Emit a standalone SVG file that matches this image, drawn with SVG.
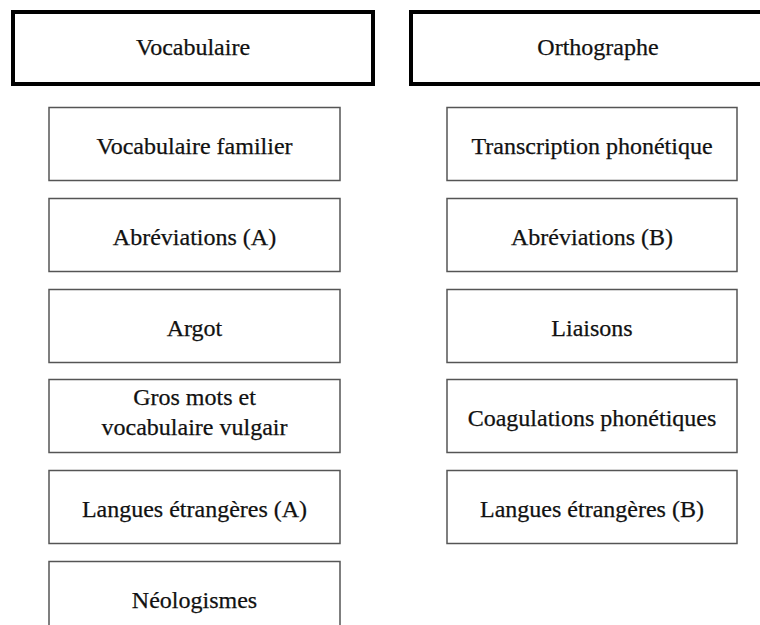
<svg xmlns="http://www.w3.org/2000/svg" width="760" height="625" viewBox="0 0 760 625">
<style>
.hdr{fill:#fff;stroke:#000;stroke-width:4}
.box{fill:#fff;stroke:#555;stroke-width:1.5}
.t{font-family:'Liberation Serif','Times New Roman',serif;font-size:24px;fill:#111;stroke:#111;stroke-width:0.25;text-anchor:middle}
</style>
<rect width="760" height="625" fill="#fff"/>
<g id="vocabulaire"><rect class="hdr" x="13" y="12" width="360" height="72"/><text class="t" x="193" y="55">Vocabulaire</text></g>
<g id="orthographe"><rect class="hdr" x="411" y="12" width="374" height="72"/><text class="t" x="598" y="55">Orthographe</text></g>
<g id="vocab-familier"><rect class="box" x="49" y="107.5" width="291" height="73"/><text class="t" x="194.5" y="154">Vocabulaire familier</text></g>
<g id="abrev-a"><rect class="box" x="49" y="198.5" width="291" height="73"/><text class="t" x="194.5" y="245">Abréviations (A)</text></g>
<g id="argot"><rect class="box" x="49" y="289.5" width="291" height="73"/><text class="t" x="194.5" y="336">Argot</text></g>
<g id="gros-mots"><rect class="box" x="49" y="379.5" width="291" height="73"/><text class="t" x="194.5" y="405">Gros mots et</text><text class="t" x="194.5" y="435">vocabulaire vulgair</text></g>
<g id="langues-a"><rect class="box" x="49" y="470.5" width="291" height="73"/><text class="t" x="194.5" y="517">Langues étrangères (A)</text></g>
<g id="neologismes"><rect class="box" x="49" y="561.5" width="291" height="73"/><text class="t" x="194.5" y="608">Néologismes</text></g>
<g id="transcription"><rect class="box" x="447" y="107.5" width="290" height="73"/><text class="t" x="592" y="154">Transcription phonétique</text></g>
<g id="abrev-b"><rect class="box" x="447" y="198.5" width="290" height="73"/><text class="t" x="592" y="245">Abréviations (B)</text></g>
<g id="liaisons"><rect class="box" x="447" y="289.5" width="290" height="73"/><text class="t" x="592" y="336">Liaisons</text></g>
<g id="coagulations"><rect class="box" x="447" y="379.5" width="290" height="73"/><text class="t" x="592" y="426">Coagulations phonétiques</text></g>
<g id="langues-b"><rect class="box" x="447" y="470.5" width="290" height="73"/><text class="t" x="592" y="517">Langues étrangères (B)</text></g>
<g id="connectors"></g>
</svg>
